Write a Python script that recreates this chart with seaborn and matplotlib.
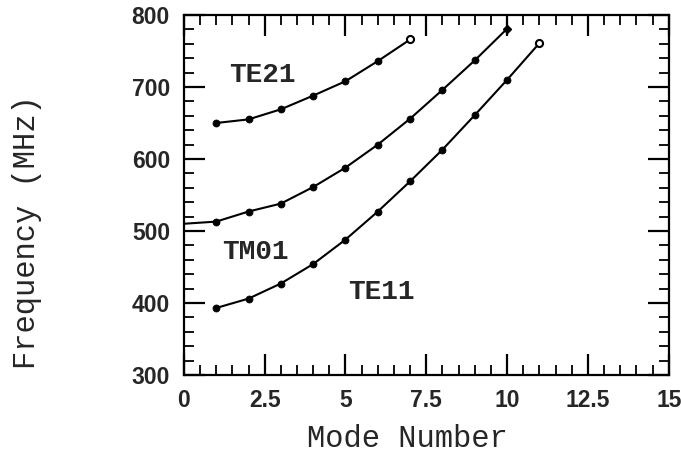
import matplotlib
matplotlib.use("Agg")
import matplotlib.pyplot as plt
import seaborn as sns
import pandas as pd
from matplotlib.ticker import MultipleLocator

# ---- data ----
te21_mode = [1, 2, 3, 4, 5, 6, 7]
te21_freq = [650, 655, 669, 688, 708, 736, 766]

tm01_mode = [0, 1, 2, 3, 4, 5, 6, 7, 8, 9, 10]
tm01_freq = [510, 513, 527, 538, 561, 588, 620, 656, 696, 737, 781]
tm01_last_err = 9

te11_mode = [1, 2, 3, 4, 5, 6, 7, 8, 9, 10, 11]
te11_freq = [393, 406, 427, 454, 488, 527, 569, 613, 661, 710, 761]

x_ticks = [0, 2.5, 5, 7.5, 10, 12.5, 15]
x_tick_labels = ["0", "2.5", "5", "7.5", "10", "12.5", "15"]
y_ticks = [300, 400, 500, 600, 700, 800]

curve_labels = ["TE21", "TM01", "TE11"]
label_pos_x = [2.43, 2.21, 6.12]
label_pos_y = [707, 461, 406]

# ---- figure ----
sns.set_style("ticks")
plt.rcParams["font.family"] = ["Liberation Sans", "DejaVu Sans"]

fig = plt.figure(figsize=(6.81, 4.55), dpi=100)
ax = fig.add_axes([0.270, 0.176, 0.712, 0.791])

series = [(te21_mode, te21_freq), (tm01_mode, tm01_freq), (te11_mode, te11_freq)]
for modes, freqs in series:
    df = pd.DataFrame({"mode": modes, "freq": freqs})
    sns.lineplot(data=df, x="mode", y="freq", ax=ax, color="black", lw=1.5,
                 estimator=None, sort=False)

# filled points (x >= 1, excluding open end markers)
filled = pd.DataFrame({
    "mode": te21_mode[:-1] + tm01_mode[1:-1] + te11_mode[:-1],
    "freq": te21_freq[:-1] + tm01_freq[1:-1] + te11_freq[:-1],
})
sns.scatterplot(data=filled, x="mode", y="freq", ax=ax, color="black",
                s=26, edgecolor="black", linewidth=0.5, zorder=5)

# open end markers
open_pts = pd.DataFrame({"mode": [te21_mode[-1], te11_mode[-1]],
                         "freq": [te21_freq[-1], te11_freq[-1]]})
sns.scatterplot(data=open_pts, x="mode", y="freq", ax=ax, marker="o",
                s=26, facecolor="white", edgecolor="black", linewidth=1.5, zorder=6)

# last TM01 point with small error bar
ax.errorbar([tm01_mode[-1]], [tm01_freq[-1]], yerr=[tm01_last_err], fmt="D",
            color="black", ms=4.5, elinewidth=1.5, capsize=0, zorder=6)

for txt, lx, ly in zip(curve_labels, label_pos_x, label_pos_y):
    ax.text(lx, ly, txt, ha="center", va="baseline", fontsize=20,
            fontweight="bold", family=["Liberation Mono", "DejaVu Sans Mono"])

ax.set_xlim(0, 15)
ax.set_ylim(300, 800)
ax.set_xticks(x_ticks)
ax.set_xticklabels(x_tick_labels)
ax.set_yticks(y_ticks)
ax.xaxis.set_minor_locator(MultipleLocator(0.5))
ax.yaxis.set_minor_locator(MultipleLocator(20))

ax.tick_params(which="both", direction="in", top=True, right=True,
               bottom=True, left=True, color="black")
ax.tick_params(which="major", length=15, width=1.6, labelsize=16.5, pad=10)
ax.tick_params(which="minor", length=7, width=1.3)
for lab in ax.get_xticklabels() + ax.get_yticklabels():
    lab.set_fontweight("bold")

for sp in ax.spines.values():
    sp.set_visible(True)
    sp.set_linewidth(1.6)
    sp.set_color("black")

mono = ["Liberation Mono", "DejaVu Sans Mono"]
ax.set_xlabel("Mode Number", fontsize=22, family=mono)
ax.set_ylabel("Frequency (MHz)", fontsize=22, family=mono)
ax.xaxis.set_label_coords(0.461, -0.136)
ax.yaxis.set_label_coords(-0.293, 0.397)

fig.savefig("out.png", dpi=100, facecolor="white")
